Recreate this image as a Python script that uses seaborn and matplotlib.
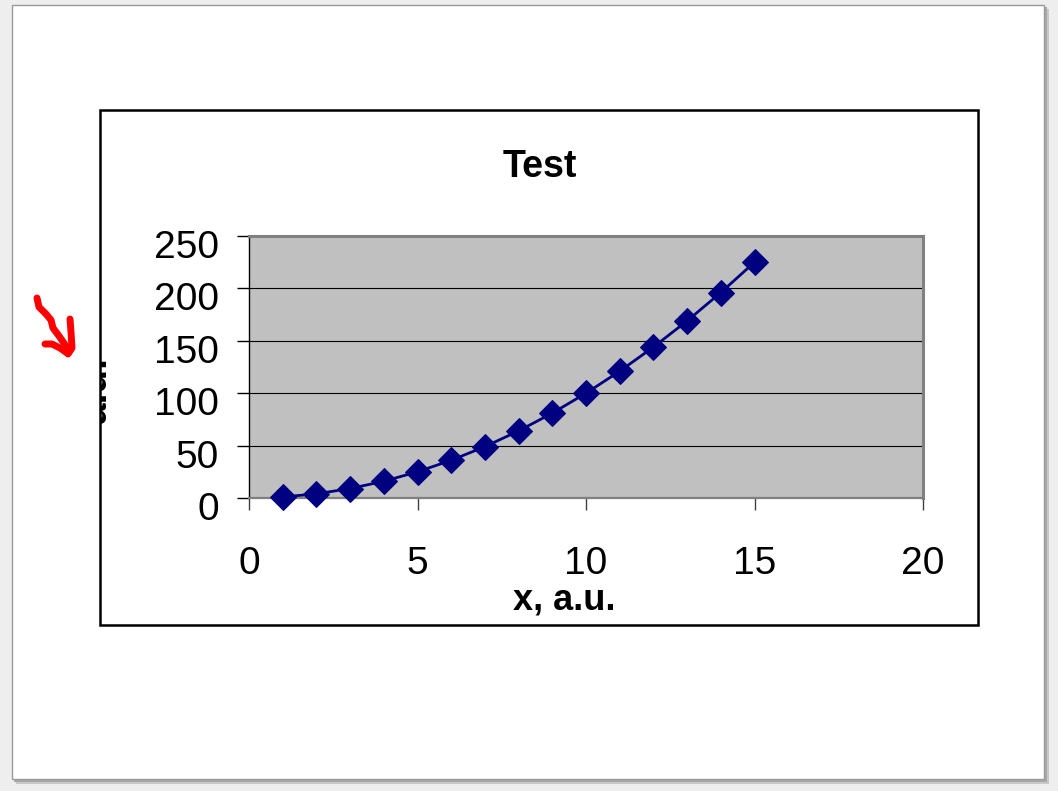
import matplotlib
matplotlib.use("Agg")
import matplotlib.pyplot as plt
from matplotlib.patches import Rectangle
from matplotlib.lines import Line2D
from matplotlib.transforms import Bbox, TransformedBbox, ScaledTranslation
import seaborn as sns

# data
x_vals = [1, 2, 3, 4, 5, 6, 7, 8, 9, 10, 11, 12, 13, 14, 15]
y_vals = [1, 4, 9, 16, 25, 36, 49, 64, 81, 100, 121, 144, 169, 196, 225]
x_ticks = [0, 5, 10, 15, 20]
y_ticks = [0, 50, 100, 150, 200, 250]
title = "Test"
x_label = "x, a.u."
y_label = "a.u."

sns.set_style("white")
plt.rcParams["font.family"] = ["Liberation Sans", "DejaVu Sans"]
plt.rcParams["text.color"] = "black"
plt.rcParams["xtick.labelcolor"] = "black"
plt.rcParams["ytick.labelcolor"] = "black"

W, H = 1058, 791
fig = plt.figure(figsize=(W / 100, H / 100), dpi=100)
fig.patch.set_facecolor("#eeeeee")


def fx(x):
    return x / W


def fy(y):
    return 1 - y / H


def rect(x0, y0, x1, y1, **kw):
    r = Rectangle((fx(x0), fy(y1)), fx(x1) - fx(x0), fy(y0) - fy(y1),
                  transform=fig.transFigure, **kw)
    fig.add_artist(r)
    return r


# slide with a soft shadow
rect(16, 9, 1049, 784, facecolor="#c8c8c8", edgecolor="none", zorder=-12)
rect(14, 7, 1047, 782, facecolor="#a8a8a8", edgecolor="none", zorder=-11)
rect(12, 5, 1044, 779, facecolor="white", edgecolor="#9a9a9a", lw=1, zorder=-10)
# chart area box
rect(100, 110, 978, 625, facecolor="white", edgecolor="black", lw=1.8, zorder=-5)

ax = fig.add_axes([fx(249), fy(498), fx(923) - fx(249), fy(236) - fy(498)])
ax.set_facecolor("#c0c0c0")

sns.lineplot(x=x_vals, y=y_vals, ax=ax, color="#000080", lw=2.0,
             marker="D", markersize=13, markeredgecolor="#000080", zorder=5,
             clip_on=False)

ax.set_xlim(0, 20)
ax.set_ylim(0, 250)
ax.set_xticks(x_ticks)
ax.set_yticks(y_ticks)
ax.set_xlabel("")
ax.set_ylabel("")
ax.yaxis.grid(True, color="black", lw=0.8)
ax.xaxis.grid(False)
ax.set_axisbelow(True)

ax.tick_params(axis="y", left=True, direction="out", length=8.6, width=1,
               color="black", labelsize=28, pad=13)
ax.tick_params(axis="x", bottom=True, direction="out", length=8.6, width=1,
               color="#404040", labelsize=28, pad=26)

for s in ["top", "right"]:
    ax.spines[s].set_color("#808080")
    ax.spines[s].set_linewidth(2.2)
ax.spines["left"].set_color("black")
ax.spines["left"].set_linewidth(1.0)
ax.spines["bottom"].set_color("#808080")
ax.spines["bottom"].set_linewidth(1.6)

off = ScaledTranslation(0, -0.08, fig.dpi_scale_trans)
for lab in ax.get_yticklabels():
    lab.set_transform(lab.get_transform() + off)

fig.text(fx(540), fy(167), title, ha="center", va="center",
         fontsize=27, fontweight="bold")
fig.text(fx(564), fy(600), x_label, ha="center", va="center",
         fontsize=26, fontweight="bold", zorder=4)

# y label is cut off by the chart area border
yl = fig.text(fx(96), fy(390), y_label, ha="center", va="center",
              rotation=90, fontsize=28, fontweight="bold", clip_on=True)
yl.set_clip_box(TransformedBbox(Bbox([[fx(100), 0], [fx(978), 1]]), fig.transFigure))

# hand drawn red arrow
pen = dict(transform=fig.transFigure, color="red", lw=5,
           solid_capstyle="round", solid_joinstyle="round", zorder=10)
arrow_x = [37, 39, 46, 51, 53, 59, 66, 68]
arrow_y = [298, 307, 314, 320, 328, 336, 346, 353]
fig.add_artist(Line2D([fx(v) for v in arrow_x], [fy(v) for v in arrow_y], **pen))
fig.add_artist(Line2D([fx(70), fx(71), fx(72), fx(68)],
                      [fy(319), fy(332), fy(348), fy(354)], **pen))
fig.add_artist(Line2D([fx(45), fx(52), fx(60), fx(67)],
                      [fy(344), fy(344), fy(348), fy(353)], **pen))

fig.savefig("out.png", dpi=100, facecolor=fig.get_facecolor())
